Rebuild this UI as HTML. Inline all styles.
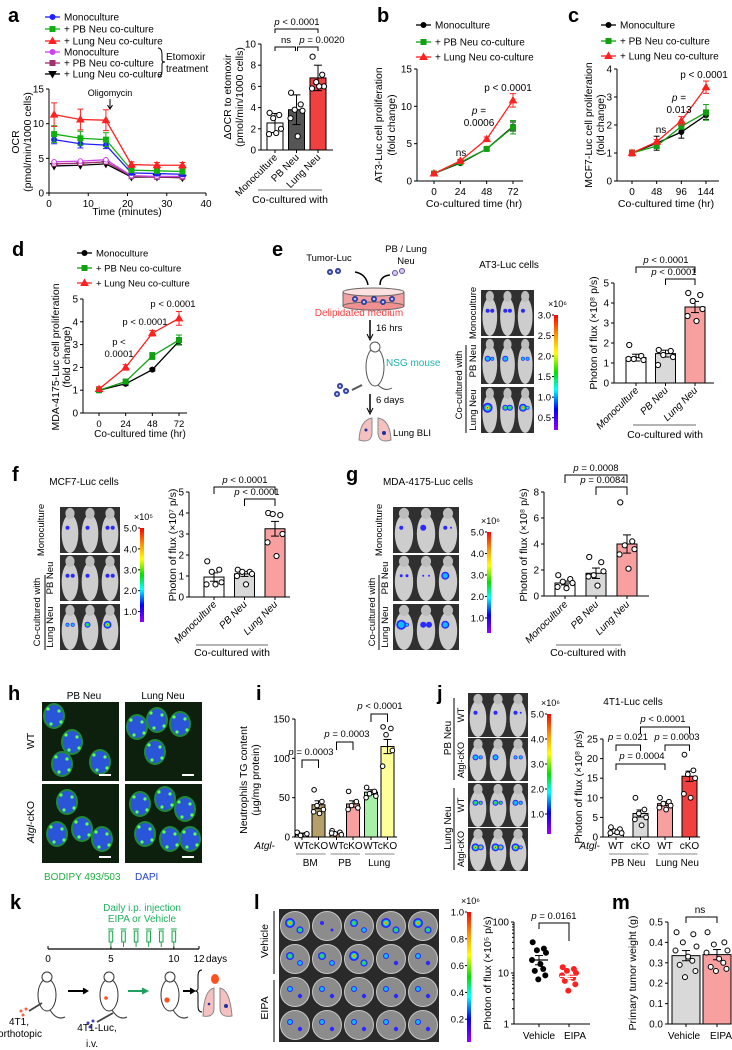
<!DOCTYPE html>
<html><head><meta charset="utf-8">
<style>
html,body{margin:0;padding:0;background:#fff;}
svg{display:block;font-family:"Liberation Sans",Arial,sans-serif;}
</style></head>
<body>
<svg id="fig" width="732" height="1050" viewBox="0 0 732 1050" xmlns="http://www.w3.org/2000/svg">
<defs>
<linearGradient id="rainbow" x1="0" y1="0" x2="0" y2="1">
<stop offset="0" stop-color="#ff0000"/><stop offset="0.18" stop-color="#ff9900"/><stop offset="0.33" stop-color="#ffff00"/><stop offset="0.5" stop-color="#00e000"/><stop offset="0.65" stop-color="#00ffff"/><stop offset="0.82" stop-color="#0000ff"/><stop offset="1" stop-color="#9900ff"/>
</linearGradient>
</defs>
</svg>
<script>
// ---------- DATA ----------
const aTime=[1.3,8,14.5,21,27.5,34];
const aMono=[7.7,7.1,6.9,2.9,2.8,2.7];
const aMonoErr=[0.6,0.6,0.5,0.3,0.3,0.3];
const aPB=[8.5,7.9,7.7,3.3,3.2,3.1];
const aPBErr=[1.2,1.0,1.0,0.3,0.3,0.3];
const aLung=[11.3,10.6,10.5,4.1,4.0,4.0];
const aLungErr=[1.7,1.5,1.5,0.4,0.4,0.4];
const aMonoEto=[4.5,4.6,4.8,2.5,2.4,2.4];
const aPBEto=[4.2,4.3,4.5,2.4,2.3,2.3];
const aLungEto=[3.9,4.0,4.2,2.3,2.3,2.2];
const aXTicks=[0,10,20,30,40];
const aYTicks=[0,5,10,15];
const a2Cats=["Monoculture","PB Neu","Lung Neu"];
const a2Means=[2.55,3.8,6.8];
const a2Errs=[0.9,1.4,1.2];
const a2Pts=[[3.5,3.3,3.0,2.0,1.5,1.6],[5.4,4.3,3.8,3.7,3.0,1.3],[8.8,7.1,6.4,6.0,5.8,6.0]];
const a2Ticks=[0,2,4,6,8,10];

const timeTicks=[0,24,48,72];
const bMono=[1,2.4,4.3,7.3];
const bPB=[1,2.5,4.3,7.2];
const bLung=[1,2.7,5.6,10.8];
const bMonoErr=[0.1,0.1,0.2,0.6];
const bPBErr=[0.1,0.1,0.2,0.9];
const bLungErr=[0.2,0.2,0.3,0.9];
const bYTicks=[0,5,10,15];

const cTimes=[0,48,96,144];
const cMono=[1,1.35,1.75,2.35];
const cPB=[1,1.25,1.95,2.45];
const cLung=[1,1.4,2.15,3.35];
const cMonoErr=[0.1,0.25,0.22,0.15];
const cPBErr=[0.1,0.08,0.1,0.28];
const cLungErr=[0.1,0.08,0.15,0.22];
const cYTicks=[0,1,2,3,4];

const dMono=[1,1.28,1.9,3.15];
const dPB=[1,1.38,2.5,3.2];
const dLung=[1.05,2.0,3.5,4.15];
const dMonoErr=[0.08,0.06,0.06,0.15];
const dPBErr=[0.1,0.08,0.15,0.22];
const dLungErr=[0.1,0.12,0.12,0.3];
const dYTicks=[0,1,2,3,4,5];

const cultCats=["Monoculture","PB Neu","Lung Neu"];
const eMeans=[1.27,1.47,3.8];
const eErrs=[0.17,0.17,0.28];
const ePts=[[1.9,1.35,1.2,1.15,1.2],[1.65,1.6,1.4,1.3,0.9],[4.5,4.4,4.1,3.7,3.35,3.1]];
const eTicks=[0,1,2,3,4,5];
const fMeans=[0.95,1.1,3.25];
const fErrs=[0.2,0.12,0.35];
const fPts=[[1.7,1.3,1.2,0.7,0.6,0.6],[1.3,1.2,1.2,1.1,1.0,0.6],[4.0,3.9,3.95,3.0,2.6,1.95]];
const fTicks=[0,1,2,3,4,5];
const gMeans=[1.0,1.75,4.0];
const gErrs=[0.15,0.4,0.7];
const gPts=[[1.6,1.3,1.1,1.0,0.7,0.6],[3.0,2.6,1.6,1.9,1.5,0.8],[7.2,4.2,3.9,3.6,3.2,2.1]];
const gTicks=[0,2,4,6,8];

const iCats=["WT","cKO","WT","cKO","WT","cKO"];
const iGroups=["BM","PB","Lung"];
const iMeans=[4,41,5,42,57,115];
const iErrs=[1,5,1,4,3,9];
const iPts=[[5,3,2,4,6],[60,45,40,35,32,30],[8,6,4,3,5],[58,45,40,37,35],[63,58,55,52,50],[140,138,130,110,90]];
const iTicks=[0,50,100,150];

const jCats=["WT","cKO","WT","cKO"];
const jGroups=["PB Neu","Lung Neu"];
const jMeans=[1.5,6.0,8.5,15.5];
const jErrs=[0.3,0.9,0.5,1.3];
const jPts=[[2.5,2,1.5,1,1,1.2],[10,7,6,5,4.5,3],[10,9,8.5,8,7.5,7],[21,17,16,15,11,10]];
const jTicks=[0,5,10,15,20,25];

const lCats=["Vehicle","EIPA"];
const lVehicle=[40,30,28,25,18,15,12,11,9,7.5];
const lEIPA=[13,12,11,10,9,8.5,8,7,6,4.5];
const lMeans=[18,8.6];
const lErrLo=[14.5,7.8];
const lErrHi=[22,9.5];
const lTicks=[1,10,100];

const mCats=["Vehicle","EIPA"];
const mMeans=[0.335,0.34];
const mErrs=[0.025,0.025];
const mPts=[[0.45,0.44,0.40,0.38,0.36,0.33,0.31,0.29,0.26,0.23],[0.45,0.40,0.39,0.36,0.35,0.32,0.30,0.28,0.27,0.26]];
const mTicks=[0,0.1,0.2,0.3,0.4,0.5];

// ---------- HELPERS ----------
const NS='http://www.w3.org/2000/svg';
const svg=document.getElementById('fig');
function mk(tag,attrs,name,parent){
  const el=document.createElementNS(NS,tag);
  for(const k in attrs){if(attrs[k]!==undefined&&attrs[k]!==null)el.setAttribute(k,attrs[k]);}
  
  
  (parent||svg).appendChild(el);return el;
}
function T(x,y,s,o,name){o=o||{};const a={x:x,y:y,'font-size':o.fs||10,'text-anchor':o.a||'start',fill:o.c||'#000'};
  if(o.it)a['font-style']='italic';if(o.b)a['font-weight']='bold';
  if(o.r)a.transform='rotate('+o.r+' '+x+' '+y+')';
  const t=mk('text',a,name||'label');t.textContent=s;return t;}
function pT(x,y,rest,o,name){const t=T(x,y,'',o,name);
  const s=document.createElementNS(NS,'tspan');
  
  
  s.setAttribute('font-style','italic');s.textContent='p';t.appendChild(s);
  t.appendChild(document.createTextNode(' '+rest));return t;}
function L(x1,y1,x2,y2,name,o){o=o||{};return mk('line',{x1:x1,y1:y1,x2:x2,y2:y2,stroke:o.c||'#000','stroke-width':o.w||1},name);}
function Pth(d,name,o){o=o||{};return mk('path',{d:d,fill:o.f||'none',stroke:o.c||'#000','stroke-width':o.w||1},name);}
function lin(d0,d1,r0,r1){return v=>r0+(v-d0)*(r1-r0)/(d1-d0);}
function panel(x,y,s){T(x,y,s,{fs:20,b:true},'panel-label-'+s);}
function yAxis(ax,sc,ticks,name,fmt,fs){
  L(ax,sc(ticks[0]),ax,sc(ticks[ticks.length-1]),name+'-y-axis');
  ticks.forEach(v=>{L(ax-3,sc(v),ax,sc(v),name+'-y-tick');
    T(ax-5,sc(v)+3.5,fmt?fmt(v):String(v),{a:'end',fs:fs||10},name+'-y-tick-label');});
}
function xAxis(y,sc,ticks,x0,x1,name,fs){
  L(x0,y,x1,y,name+'-x-axis');
  ticks.forEach(v=>{L(sc(v),y,sc(v),y+3,name+'-x-tick');
    T(sc(v),y+14,String(v),{a:'middle',fs:fs||10},name+'-x-tick-label');});
}
function yTitle(x,cy,s,name,fs){T(x,cy,s,{a:'middle',r:-90,fs:fs||10.5},name);}
function marker(x,y,type,color,s,name,hollow){
  const f=hollow?'#fff':color;
  if(type==='o')mk('circle',{cx:x,cy:y,r:s,fill:f,stroke:color,'stroke-width':1},name);
  else if(type==='s')mk('rect',{x:x-s,y:y-s,width:2*s,height:2*s,fill:f,stroke:color},name);
  else if(type==='^')mk('path',{d:`M${x} ${y-s-1}L${x+s+1} ${y+s}L${x-s-1} ${y+s}Z`,fill:f,stroke:color},name);
  else mk('path',{d:`M${x} ${y+s+1}L${x+s+1} ${y-s}L${x-s-1} ${y-s}Z`,fill:f,stroke:color},name);
}
function series(xs,ys,es,sx,sy,color,type,name,s,hollow){
  mk('polyline',{points:xs.map((x,i)=>sx(x)+','+sy(ys[i])).join(' '),fill:'none',stroke:color,'stroke-width':1.3},name+'-line');
  xs.forEach((x,i)=>{const px=sx(x);
    if(es){L(px,sy(ys[i]-es[i]),px,sy(ys[i]+es[i]),name+'-error-bar',{c:color});
      L(px-3,sy(ys[i]+es[i]),px+3,sy(ys[i]+es[i]),name+'-error-cap',{c:color});
      L(px-3,sy(ys[i]-es[i]),px+3,sy(ys[i]-es[i]),name+'-error-cap',{c:color});}
    marker(px,sy(ys[i]),type,color,s||2.5,name+'-point',hollow);});
}
function legendEntry(x,y,color,type,label,name,fs){
  L(x,y,x+15,y,name+'-swatch',{c:color,w:1.3});marker(x+7.5,y,type,color,2.5,name+'-marker');
  T(x+19,y+3.5,label,{fs:fs||10},name+'-text');
}
function bracket(x1,x2,y,h1,h2,name){Pth(`M${x1} ${y+h1}V${y}H${x2}V${y+h2}`,name);}
const jit=[-0.45,0.35,-0.15,0.5,-0.5,0.1,0.3,-0.3,0.45,-0.05];
function barChart(c){
  const sy=lin(0,c.vmax,c.base,c.top);
  yAxis(c.ax,sy,c.ticks,c.name,c.fmt,c.fs);
  L(c.ax,c.base,c.xEnd,c.base,c.name+'-x-axis');
  c.means.forEach((m,i)=>{const cx=c.cx(i);
    mk('rect',{x:cx-c.w/2,y:sy(m),width:c.w,height:c.base-sy(m),fill:c.fills[i],stroke:'#000','stroke-width':1},c.name+'-bar-'+i);
    L(cx,sy(m-c.errs[i]),cx,sy(m+c.errs[i]),c.name+'-error-bar');
    L(cx-4,sy(m+c.errs[i]),cx+4,sy(m+c.errs[i]),c.name+'-error-cap');
    L(cx-4,sy(m-c.errs[i]),cx+4,sy(m-c.errs[i]),c.name+'-error-cap');
    c.pts[i].forEach((v,j)=>mk('circle',{cx:cx+jit[j%10]*c.w*0.75,cy:sy(v),r:c.r||2.6,fill:'#fff',stroke:'#000','stroke-width':1},c.name+'-dot'));
    L(cx,c.base,cx,c.base+3,c.name+'-x-tick');
  });
  return sy;
}
function rotLabels(cats,cxf,y,name,it){cats.forEach((s,i)=>T(cxf(i)+3,y,s,{a:'end',r:-45,fs:10,it:it},name));}
function colorbar(x,y1,y2,labels,vals,top,bottom,exp,name){
  mk('rect',{x:x,y:y1,width:4,height:y2-y1,fill:'url(#rainbow)'},name);
  const s=lin(bottom,top,y2,y1);
  vals.forEach((v,i)=>{L(x-2,s(v),x,s(v),name+'-tick');T(x-3,s(v)+3.5,labels[i],{a:'end',fs:9.5},name+'-tick-label');});
  T(x-6,y1-8,'×10'+exp,{fs:9},name+'-exponent');
}
function blob(x,y,r,l,name){
  mk('circle',{cx:x,cy:y,r:r,fill:'#2a2aff'},name);
  if(l>=1)mk('circle',{cx:x,cy:y,r:r*0.65,fill:'#10b8ff'},name+'-mid');
  if(l>=2)mk('circle',{cx:x,cy:y,r:r*0.45,fill:'#30e030'},name+'-mid');
  if(l>=3){mk('circle',{cx:x,cy:y,r:r*0.3,fill:'#ffee00'},name+'-core');mk('circle',{cx:x,cy:y,r:r*0.15,fill:'#ff0000'},name+'-core');}
}
function bli(x,y,w,h,spec,name){
  mk('rect',{x:x,y:y,width:w,height:h,fill:'#303030'},name+'-background');
  for(let k=0;k<3;k++){const cx=x+w*(k+0.5)/3;
    mk('ellipse',{cx:cx,cy:y+h*0.58,rx:w/7.2,ry:h*0.42,fill:'#cdcdcd'},name+'-mouse');
    mk('ellipse',{cx:cx,cy:y+h*0.14,rx:w/13,ry:h*0.12,fill:'#bdbdbd'},name+'-mouse-head');
    const sp=spec[k];
    if(sp[0]>0){blob(cx-w/24,y+h*0.45,sp[0],sp[1],name+'-signal');
      if(sp[2])blob(cx+w/22,y+h*0.45,sp[2],sp[1],name+'-signal');}
  }
}
function cellIcon(x,y,name){mk('circle',{cx:x,cy:y,r:3,fill:'#2c3a9c'},name);mk('circle',{cx:x,cy:y,r:1.3,fill:'#b8c4ff'},name+'-nucleus');}

// ---------- PANEL A ----------
panel(8,22,'a');
const aCols=['#2020ff','#10b010','#ff2020','#cc44ee','#a03070','#000'];
const aTypes=['o','s','^','o','s','v'];
const aLabels=['Monoculture','+ PB Neu co-culture','+ Lung Neu co-culture','Monoculture','+ PB Neu co-culture','+ Lung Neu co-culture'];
[17,29,41,52,63,74].forEach((y,i)=>legendEntry(45,y,aCols[i],aTypes[i],aLabels[i],'a-legend-entry'));
Pth('M158 48Q162 48 162 55V60Q162 62 165 62Q162 62 162 64V70Q162 77 158 77','a-etomoxir-brace');
T(166,60,'Etomoxir',{fs:10},'a-etomoxir-label');T(166,72,'treatment',{fs:10},'a-treatment-label');
const aX=lin(0,40,49,206), aY=lin(0,15,193,89);
yAxis(49,aY,aYTicks,'a-ocr');xAxis(193,aX,aXTicks,49,206,'a-ocr');
T(127,215,'Time (minutes)',{a:'middle',fs:10.5},'a-x-axis-title');
yTitle(19,142,'OCR','a-y-axis-title');yTitle(31,142,'(pmol/min/1000 cells)','a-y-axis-title-units');
T(110,96,'Oligomycin',{a:'middle',fs:9},'a-oligomycin-label');
L(110,99,110,108,'a-oligomycin-arrow');Pth('M107.5 105L110 109L112.5 105','a-oligomycin-arrowhead');
series(aTime,aLungEto,null,aX,aY,aCols[5],'v','a-lung-etomoxir');
series(aTime,aPBEto,null,aX,aY,aCols[4],'s','a-pb-etomoxir',2.3,true);
series(aTime,aMonoEto,null,aX,aY,aCols[3],'o','a-mono-etomoxir',2.3,true);
series(aTime,aMono,aMonoErr,aX,aY,aCols[0],'o','a-mono');
series(aTime,aPB,aPBErr,aX,aY,aCols[1],'s','a-pb');
series(aTime,aLung,aLungErr,aX,aY,aCols[2],'^','a-lung');
const a2cx=i=>275+i*21.5;
barChart({ax:261,base:150,top:44,vmax:10,ticks:a2Ticks,cx:a2cx,w:16,xEnd:333,means:a2Means,errs:a2Errs,pts:a2Pts,fills:['#fff','#555','#f04040'],name:'a-delta-ocr'});
yTitle(231,97,'ΔOCR to etomoxir','a2-y-axis-title');yTitle(243,97,'(pmol/min/1000 cells)','a2-y-axis-title-units');
rotLabels(a2Cats,a2cx,158,'a2-category-label');
L(258,190,322,190,'a2-group-line',{c:'#888',w:1.3});T(290,203,'Co-cultured with',{a:'middle',fs:10.5},'a2-group-label');
bracket(a2cx(0),a2cx(2),29,4,4,'a2-bracket-mono-lung');pT(297,25,'< 0.0001',{a:'middle',fs:9.5},'a2-pvalue');
bracket(a2cx(0),a2cx(1)-1,47,4,4,'a2-bracket-mono-pb');T(286,43,'ns',{a:'middle',fs:9.5},'a2-ns');
bracket(a2cx(1)+1,a2cx(2),47,4,4,'a2-bracket-pb-lung');pT(322,43,'= 0.0020',{a:'middle',fs:9.5},'a2-pvalue');

// ---------- PANEL B ----------
panel(377,22,'b');
legendEntry(416,25,'#000','o','Monoculture','b-legend-mono');
legendEntry(416,42,'#10a010','s','+ PB Neu co-culture','b-legend-pb');
legendEntry(416,57,'#ff2020','^','+ Lung Neu co-culture','b-legend-lung');
const bX=lin(0,72,434,513), bY=lin(0,15,181,69);
yAxis(417,bY,bYTicks,'b');xAxis(181,bX,timeTicks,417,523,'b');
T(474,207,'Co-cultured time (hr)',{a:'middle',fs:10.5},'b-x-axis-title');
yTitle(382,125,'AT3-Luc cell proliferation','b-y-axis-title');yTitle(395,125,'(fold change)','b-y-axis-title-units');
series(timeTicks,bMono,bMonoErr,bX,bY,'#000','o','b-mono');
series(timeTicks,bPB,bPBErr,bX,bY,'#10a010','s','b-pb');
series(timeTicks,bLung,bLungErr,bX,bY,'#ff2020','^','b-lung');
T(461,156,'ns',{a:'middle',fs:10},'b-ns');
pT(479,114,'=',{a:'middle',fs:10},'b-pvalue');T(479,126,'0.0006',{a:'middle',fs:10},'b-pvalue-number');
T(508,91,'p < 0.0001',{a:'middle',fs:10},'b-pvalue-72');

// ---------- PANEL C ----------
panel(568,22,'c');
legendEntry(601,25,'#000','o','Monoculture','c-legend-mono');
legendEntry(601,41,'#10a010','s','+ PB Neu co-culture','c-legend-pb');
legendEntry(601,56,'#ff2020','^','+ Lung Neu co-culture','c-legend-lung');
const cX=lin(0,144,632,706), cY=lin(0,4,181,69);
yAxis(617,cY,cYTicks,'c');xAxis(181,cX,cTimes,617,719,'c');
T(666,207,'Co-cultured time (hr)',{a:'middle',fs:10.5},'c-x-axis-title');
yTitle(592,125,'MCF7-Luc cell proliferation','c-y-axis-title');yTitle(604,125,'(fold change)','c-y-axis-title-units');
series(cTimes,cMono,cMonoErr,cX,cY,'#000','o','c-mono');
series(cTimes,cPB,cPBErr,cX,cY,'#10a010','s','c-pb');
series(cTimes,cLung,cLungErr,cX,cY,'#ff2020','^','c-lung');
T(661,133,'ns',{a:'middle',fs:10},'c-ns');
pT(679,101,'=',{a:'middle',fs:10},'c-pvalue');T(679,113,'0.013',{a:'middle',fs:10},'c-pvalue-number');
T(704,78,'p < 0.0001',{a:'middle',fs:10},'c-pvalue-144');

// ---------- PANEL D ----------
panel(12,256,'d');
legendEntry(77,253,'#000','o','Monoculture','d-legend-mono',9.5);
legendEntry(77,268,'#10a010','s','+ PB Neu co-culture','d-legend-pb',9.5);
legendEntry(77,283,'#ff2020','^','+ Lung Neu co-culture','d-legend-lung',9.5);
const dX=lin(0,72,99,179), dY=lin(0,5,413,299);
yAxis(83,dY,dYTicks,'d');xAxis(413,dX,timeTicks,83,187,'d',9.5);
T(140,437,'Co-cultured time (hr)',{a:'middle',fs:10},'d-x-axis-title');
yTitle(59,357,'MDA-4175-Luc cell proliferation','d-y-axis-title');yTitle(70,357,'(fold change)','d-y-axis-title-units');
series(timeTicks,dMono,dMonoErr,dX,dY,'#000','o','d-mono');
series(timeTicks,dPB,dPBErr,dX,dY,'#10a010','s','d-pb');
series(timeTicks,dLung,dLungErr,dX,dY,'#ff2020','^','d-lung');
T(173,307,'p < 0.0001',{a:'middle',fs:9.5},'d-pvalue-72');
T(145,325,'p < 0.0001',{a:'middle',fs:9.5},'d-pvalue-48');
T(119,345,'p <',{a:'middle',fs:9.5},'d-pvalue-24');T(119,357,'0.0001',{a:'middle',fs:9.5},'d-pvalue-24-number');

// ---------- PANEL E ----------
panel(272,256,'e');
T(329,261,'Tumor-Luc',{a:'middle',fs:9.5},'e-tumor-luc-label');
T(406,252,'PB / Lung',{a:'middle',fs:9.5},'e-neu-label');T(406,264,'Neu',{a:'middle',fs:9.5},'e-neu-label-2');
cellIcon(330,272,'e-tumor-cell');cellIcon(338,271,'e-tumor-cell');
mk('circle',{cx:395,cy:273,r:2.5,fill:'#d8c8f0',stroke:'#6050a0'},'e-neutrophil');mk('circle',{cx:402,cy:271,r:2.5,fill:'#d8c8f0',stroke:'#6050a0'},'e-neutrophil');
Pth('M355 272Q366 274 368 285','e-arrow-tumor',{w:1.5});Pth('M390 275Q380 276 380 285','e-arrow-neu',{w:1.5});
mk('rect',{x:343,y:292,width:61,height:14,fill:'#f4a0a0',stroke:'#666'},'e-dish-body');
mk('ellipse',{cx:373.5,cy:306,rx:30.5,ry:4,fill:'#f09090',stroke:'#666'},'e-dish-bottom');
mk('ellipse',{cx:373.5,cy:292,rx:30.5,ry:4,fill:'#fbe0e0',stroke:'#666'},'e-dish-top');
[355,364,374,383,392].forEach((x,k)=>cellIcon(x,299+(k%2)*3,'e-dish-cell'));
T(359,316,'Delipidated medium',{a:'middle',fs:10,c:'#ff4040'},'e-delipidated-label');
L(370,320,370,338,'e-arrow-16h',{w:1.5});Pth('M367 334L370 340L373 334','e-arrowhead');
T(376,331,'16 hrs',{fs:9.5},'e-16hrs-label');
mk('ellipse',{cx:375,cy:367,rx:9,ry:19,fill:'#fff',stroke:'#555'},'e-mouse-body');
mk('ellipse',{cx:375,cy:347,rx:5,ry:5,fill:'#fff',stroke:'#555'},'e-mouse-head');
Pth('M378 385Q385 392 392 388','e-mouse-tail',{c:'#555'});
T(386,366,'NSG mouse',{fs:10,c:'#20b0b0'},'e-nsg-label');
cellIcon(340,386,'e-injected-cell');cellIcon(346,391,'e-injected-cell');cellIcon(337,394,'e-injected-cell');
L(352,390,362,385,'e-syringe',{c:'#555',w:2});
L(370,394,370,412,'e-arrow-6d',{w:1.5});Pth('M367 408L370 414L373 408','e-arrowhead-2');
T(376,403,'6 days',{fs:9.5},'e-6days-label');
mk('path',{d:'M372 418Q360 420 359 440Q372 444 372 432Z',fill:'#f4c0c0',stroke:'#888'},'e-lung-left');
mk('path',{d:'M378 418Q390 420 391 440Q378 444 378 432Z',fill:'#f4c0c0',stroke:'#888'},'e-lung-right');
mk('circle',{cx:366,cy:430,r:1.5,fill:'#2030a0'},'e-lung-metastasis');mk('circle',{cx:384,cy:433,r:2,fill:'#2030a0'},'e-lung-metastasis');
T(393,436,'Lung BLI',{fs:9.5},'e-lung-bli-label');
T(509,268,'AT3-Luc cells',{a:'middle',fs:10},'e-image-title');
bli(481,290,53,46,[[2,0,2],[2,0,2],[2,0,0]],'e-bli-mono');
bli(481,338,53,46,[[3,1,2],[3,1,0],[2,1,2]],'e-bli-pb');
bli(481,387,53,46,[[5,3,0],[3,2,3],[4,3,2]],'e-bli-lung');
yTitle(476,313,'Monoculture','e-row-mono',9.5);yTitle(476,361,'PB Neu','e-row-pb',9.5);yTitle(476,410,'Lung Neu','e-row-lung',9.5);
yTitle(462,385,'Co-cultured with','e-row-group',9.5);L(466,345,466,433,'e-row-group-line');
colorbar(554,315,430,['3.0','2.5','2.0','1.5','1.0','0.5'],[3,2.5,2,1.5,1,0.5],3.0,0.2,'⁶','e-colorbar');
const ecx=i=>636+i*29.5;
barChart({ax:614,base:383,top:283,vmax:5,ticks:eTicks,cx:ecx,w:20,xEnd:714,means:eMeans,errs:eErrs,pts:ePts,fills:['#fff','#d9d9d9','#f8a0a0'],name:'e-flux'});
yTitle(597,333,'Photon of flux (×10⁸ p/s)','e-y-axis-title');
rotLabels(cultCats,ecx,391,'e-category-label',true);
L(633,425,696,425,'e-group-line',{c:'#888',w:1.3});T(665,438,'Co-cultured with',{a:'middle',fs:10.5},'e-group-label');
bracket(ecx(0),ecx(2),267,6,6,'e-bracket-mono-lung');pT(666,263,'< 0.0001',{a:'middle',fs:9.5},'e-pvalue');
bracket(ecx(1),ecx(2),279,6,6,'e-bracket-pb-lung');pT(674,275,'< 0.0001',{a:'middle',fs:9.5},'e-pvalue');

// ---------- PANEL F ----------
panel(12,481,'f');
T(84,485,'MCF7-Luc cells',{a:'middle',fs:10},'f-image-title');
bli(60,507,60,46,[[2,0,0],[2,0,0],[2,0,2]],'f-bli-mono');
bli(60,555,60,46,[[2,0,2],[2,0,0],[2,0,2]],'f-bli-pb');
bli(60,604,60,46,[[2,1,2],[3,2,0],[4,3,0]],'f-bli-lung');
yTitle(44,530,'Monoculture','f-row-mono',9.5);yTitle(53,578,'PB Neu','f-row-pb',9.5);yTitle(53,627,'Lung Neu','f-row-lung',9.5);
yTitle(40,612,'Co-cultured with','f-row-group',9.5);L(45,575,45,650,'f-row-group-line');
colorbar(140,528,622,['5.0','4.0','3.0','2.0','1.0'],[5,4,3,2,1],5,0.5,'⁵','f-colorbar');
const fcx=i=>214+i*30.5;
barChart({ax:189,base:597,top:492,vmax:5,ticks:fTicks,cx:fcx,w:20,xEnd:290,means:fMeans,errs:fErrs,pts:fPts,fills:['#fff','#d9d9d9','#f8a0a0'],name:'f-flux'});
yTitle(176,545,'Photon of flux (×10⁷ p/s)','f-y-axis-title');
rotLabels(cultCats,fcx,605,'f-category-label',true);
L(196,645,268,645,'f-group-line',{c:'#888',w:1.3});T(232,656,'Co-cultured with',{a:'middle',fs:10.5},'f-group-label');
bracket(fcx(0),fcx(2),487,7,7,'f-bracket-mono-lung');pT(245,483,'< 0.0001',{a:'middle',fs:9.5},'f-pvalue');
bracket(fcx(1),fcx(2),499,7,7,'f-bracket-pb-lung');pT(257,495,'< 0.0001',{a:'middle',fs:9.5},'f-pvalue');

// ---------- PANEL G ----------
panel(346,481,'g');
T(428,485,'MDA-4175-Luc cells',{a:'middle',fs:10},'g-image-title');
bli(393,507,66,46,[[2,0,0],[3,0,0],[2,0,1]],'g-bli-mono');
bli(393,555,66,46,[[1.5,0,1.5],[1,0,1],[4,1,0]],'g-bli-pb');
bli(393,604,66,46,[[5,1,2],[3,0,3],[4,1,0]],'g-bli-lung');
yTitle(382,530,'Monoculture','g-row-mono',9.5);yTitle(388,578,'PB Neu','g-row-pb',9.5);yTitle(388,627,'Lung Neu','g-row-lung',9.5);
yTitle(375,612,'Co-cultured with','g-row-group',9.5);L(379,575,379,650,'g-row-group-line');
colorbar(487,532,633,['5.0','4.0','3.0','2.0','1.0'],[5,4,3,2,1],5,0.3,'⁶','g-colorbar');
const gcx=i=>565+i*31;
barChart({ax:544,base:596,top:492,vmax:8,ticks:gTicks,cx:gcx,w:20,xEnd:649,means:gMeans,errs:gErrs,pts:gPts,fills:['#fff','#d9d9d9','#f8a0a0'],name:'g-flux'});
yTitle(527,545,'Photon of flux (×10⁸ p/s)','g-y-axis-title');
rotLabels(cultCats,gcx,605,'g-category-label',true);
L(556,645,621,645,'g-group-line',{c:'#888',w:1.3});T(588,656,'Co-cultured with',{a:'middle',fs:10.5},'g-group-label');
bracket(gcx(0),gcx(2),475,8,8,'g-bracket-mono-lung');pT(596,471,'= 0.0008',{a:'middle',fs:9.5},'g-pvalue');
bracket(gcx(1),gcx(2),487,8,8,'g-bracket-pb-lung');pT(603,483,'= 0.0084',{a:'middle',fs:9.5},'g-pvalue');

// ---------- PANEL H ----------
panel(8,700,'h');
T(84,699,'PB Neu',{a:'middle',fs:10},'h-col-pb');T(163,699,'Lung Neu',{a:'middle',fs:10},'h-col-lung');
yTitle(34,741,'WT','h-row-wt');
const hRowLbl=T(34,822,'',{a:'middle',r:-90,fs:10.5},'h-row-cko');
(function(){const s=document.createElementNS(NS,'tspan');s.setAttribute('font-style','italic');s.textContent='Atgl';hRowLbl.appendChild(s);hRowLbl.appendChild(document.createTextNode('-cKO'));})();
const hCells=[[[12,14],[30,40],[20,62],[58,60]],[[12,25],[32,18],[55,22],[30,50]],[[25,18],[15,50],[40,45],[60,55]],[[15,20],[40,15],[60,25],[20,50],[45,55],[65,55]]];
[[42,702],[125,702],[42,784],[125,784]].forEach((p,k)=>{
  mk('rect',{x:p[0],y:p[1],width:77,height:79,fill:'#0d1f0d'},'h-image-bg');
  hCells[k].forEach(c=>{mk('ellipse',{cx:p[0]+c[0],cy:p[1]+c[1],rx:11,ry:13,fill:'#1f8a3a'},'h-cell-lipid');
    mk('ellipse',{cx:p[0]+c[0],cy:p[1]+c[1],rx:9,ry:11,fill:'#2a55d8'},'h-cell-nucleus');
    for(let d=0;d<4;d++)mk('circle',{cx:p[0]+c[0]+[-6,5,7,-3][d],cy:p[1]+c[1]+[-7,-5,6,8][d],r:1.6,fill:'#5cff5c'},'h-lipid-droplet');});
  mk('rect',{x:p[0]+57,y:p[1]+72,width:12,height:2,fill:'#fff'},'h-scale-bar');
});
T(44,880,'BODIPY 493/503',{fs:10,c:'#20b040'},'h-legend-bodipy');T(135,880,'DAPI',{fs:10,c:'#2040d0'},'h-legend-dapi');

// ---------- PANEL I ----------
panel(256,700,'i');
const icx=i=>302+Math.floor(i/2)*34.5+(i%2)*16.5;
barChart({ax:295,base:837,top:719,vmax:150,ticks:iTicks,cx:icx,w:13,xEnd:397,means:iMeans,errs:iErrs,pts:iPts,fills:['#fff','#b5a06a','#f0a868','#f8a0a0','#a8f0a8','#ffff99'],name:'i-tg',r:2.3});
yTitle(247,780,'Neutrophils TG content','i-y-axis-title');yTitle(259,780,'(µg/mg protein)','i-y-axis-title-units');
const iAt=T(275,849,'',{a:'end',fs:10},'i-atgl-label');
(function(){const s=document.createElementNS(NS,'tspan');s.setAttribute('font-style','italic');s.textContent='Atgl';iAt.appendChild(s);iAt.appendChild(document.createTextNode('-'));})();
iCats.forEach((s,i)=>T(icx(i),849,s,{a:'middle',fs:10},'i-genotype-label'));
iGroups.forEach((s,g)=>{L(icx(2*g)-6,854,icx(2*g+1)+7,854,'i-group-line',{c:'#888'});T((icx(2*g)+icx(2*g+1))/2,866,s,{a:'middle',fs:10},'i-group-label');});
bracket(icx(0),icx(1),760,8,8,'i-bracket-bm');pT(311,755,'= 0.0003',{a:'middle',fs:9.5},'i-pvalue');
bracket(icx(2),icx(3),742,8,8,'i-bracket-pb');pT(347,737,'= 0.0003',{a:'middle',fs:9.5},'i-pvalue');
bracket(icx(4),icx(5),714,8,8,'i-bracket-lung');pT(380,709,'< 0.0001',{a:'middle',fs:9.5},'i-pvalue');

// ---------- PANEL J ----------
panel(437,700,'j');
bli(468,693,60,44,[[2,0,0],[2,0,0],[2,0,1]],'j-bli-pb-wt');
bli(468,738,60,43,[[3,1,2],[3,1,0],[2,1,2]],'j-bli-pb-cko');
bli(468,783,60,44,[[3,2,2],[3,2,2],[3,1,2]],'j-bli-lung-wt');
bli(468,828,60,43,[[4,3,3],[4,3,3],[4,3,2]],'j-bli-lung-cko');
yTitle(464,715,'WT','j-row-wt',9.5);yTitle(464,760,'Atgl-cKO','j-row-cko',9);yTitle(464,805,'WT','j-row-wt-2',9.5);yTitle(464,849,'Atgl-cKO','j-row-cko-2',9);
yTitle(451,738,'PB Neu','j-row-pb',10);yTitle(451,828,'Lung Neu','j-row-lung',10);
L(454,698,454,780,'j-row-line');L(454,788,454,870,'j-row-line');
colorbar(547,714,834,['5.0','4.0','3.0','2.0','1.0'],[5,4,3,2,1],5,0.2,'⁶','j-colorbar');
T(633,705,'4T1-Luc cells',{a:'middle',fs:10},'j-chart-title');
const jcx=i=>616+Math.floor(i/2)*49+(i%2)*24.5;
barChart({ax:603,base:837,top:739,vmax:25,ticks:jTicks,cx:jcx,w:15,xEnd:700,means:jMeans,errs:jErrs,pts:jPts,fills:['#fff','#d9d9d9','#f8a0a0','#f04040'],name:'j-flux',r:2.4});
yTitle(582,787,'Photon of flux (×10⁸ p/s)','j-y-axis-title');
const jAt=T(600,849,'',{a:'end',fs:10},'j-atgl-label');
(function(){const s=document.createElementNS(NS,'tspan');s.setAttribute('font-style','italic');s.textContent='Atgl';jAt.appendChild(s);jAt.appendChild(document.createTextNode('-'));})();
jCats.forEach((s,i)=>T(jcx(i),849,s,{a:'middle',fs:10},'j-genotype-label'));
jGroups.forEach((s,g)=>{L(jcx(2*g)-7,854,jcx(2*g+1)+8,854,'j-group-line',{c:'#888'});T((jcx(2*g)+jcx(2*g+1))/2,866,s,{a:'middle',fs:10},'j-group-label');});
bracket(jcx(1),jcx(3),727,7,7,'j-bracket-cko');pT(663,722,'< 0.0001',{a:'middle',fs:9.5},'j-pvalue');
bracket(jcx(0),jcx(1),745,6,6,'j-bracket-pb');pT(628,740,'= 0.021',{a:'middle',fs:9.5},'j-pvalue');
bracket(jcx(2),jcx(3),745,6,6,'j-bracket-lung');pT(677,740,'= 0.0003',{a:'middle',fs:9.5},'j-pvalue');
bracket(jcx(0),jcx(2),764,6,6,'j-bracket-wt');pT(642,759,'= 0.0004',{a:'middle',fs:9.5},'j-pvalue');

// ---------- PANEL K ----------
panel(10,909,'k');
T(142,911,'Daily i.p. injection',{a:'middle',fs:10,c:'#20b060'},'k-injection-label');
T(142,922,'EIPA or Vehicle',{a:'middle',fs:10,c:'#20b060'},'k-treatment-label');
const kX=lin(0,12,48,199);
L(48,949,199,949,'k-timeline',{w:1.2});
[0,5,10,12].forEach(v=>{L(kX(v),946,kX(v),949,'k-timeline-tick');T(kX(v),962,String(v),{a:'middle',fs:10},'k-timeline-label');});
T(206,962,'days',{fs:10},'k-days-label');
[5,6,7,8,9,10].forEach(v=>{const x=kX(v);mk('rect',{x:x-1.8,y:931,width:3.6,height:11,fill:'#e8fff0',stroke:'#20a050'},'k-syringe');
  L(x-3,929,x+3,929,'k-syringe-plunger',{c:'#20a050'});L(x,942,x,947,'k-syringe-needle',{c:'#20a050'});});
function mouse(x,y,name){mk('ellipse',{cx:x,cy:y,rx:9,ry:16,fill:'#fff',stroke:'#333'},name+'-body');
  mk('ellipse',{cx:x,cy:y-18,rx:5,ry:5,fill:'#fff',stroke:'#333'},name+'-head');
  Pth(`M${x+3} ${y+15}Q${x+10} ${y+26} ${x+18} ${y+22}`,name+'-tail',{c:'#333'});}
mouse(47,995,'k-mouse-1');mouse(109,995,'k-mouse-2');mouse(170,995,'k-mouse-3');
mk('circle',{cx:106,cy:998,r:1.8,fill:'#ff5020'},'k-tumor-small');mk('circle',{cx:167,cy:1000,r:2.6,fill:'#ff5020'},'k-tumor');
[[21,1011],[26,1009],[23,1015]].forEach(p=>mk('circle',{cx:p[0],cy:p[1],r:1.5,fill:'#ff6040'},'k-4t1-cell'));
L(29,1011,42,1003,'k-syringe-ortho',{c:'#444',w:1.8});
[[88,1023],[93,1021],[90,1027]].forEach(p=>mk('circle',{cx:p[0],cy:p[1],r:1.5,fill:'#4040b0'},'k-4t1luc-cell'));
L(97,1022,113,1013,'k-syringe-iv',{c:'#444',w:1.8});
L(68,991,86,991,'k-arrow-1',{w:2});Pth('M83 988L88 991L83 994','k-arrowhead-1',{f:'#000'});
L(128,991,145,991,'k-arrow-2',{c:'#20a060',w:2});Pth('M142 988L148 991L142 994','k-arrowhead-2',{f:'#20a060',c:'#20a060'});
L(183,991,192,991,'k-arrow-3',{w:2});Pth('M190 988L195 991L190 994','k-arrowhead-3',{f:'#000'});
Pth('M202 970Q198 970 198 976V988Q198 991 195 991Q198 991 198 994V1006Q198 1012 202 1012','k-brace');
mk('ellipse',{cx:215,cy:979,rx:4,ry:5,fill:'#ff5020'},'k-primary-tumor');
mk('path',{d:'M214 988Q204 990 203 1016Q214 1018 214 1008Z',fill:'#f4c0c0',stroke:'#888'},'k-lung-left');
mk('path',{d:'M220 988Q230 990 232 1016Q220 1018 220 1008Z',fill:'#f4c0c0',stroke:'#888'},'k-lung-right');
mk('circle',{cx:226,cy:1006,r:2,fill:'#2030a0'},'k-lung-metastasis');mk('circle',{cx:209,cy:1004,r:1.3,fill:'#2030a0'},'k-lung-metastasis');
T(19,1025,'4T1,',{a:'middle',fs:10},'k-4t1-label');T(20,1037,'orthotopic',{a:'middle',fs:10},'k-orthotopic-label');
T(97,1031,'4T1-Luc,',{a:'middle',fs:10},'k-4t1luc-label');T(92,1047,'i.v.',{a:'middle',fs:10},'k-iv-label');

// ---------- PANEL L ----------
panel(254,909,'l');
mk('rect',{x:279,y:909,width:160,height:133,fill:'#2a2a2a'},'l-plate');
const lWellBlobs=[[3,0,2,3,3],[2,2,3,1,1],[1,1,1,1,1],[1,1,1,1,1]];
for(let r=0;r<4;r++)for(let c=0;c<5;c++){const x=279+16+c*32,y=909+17+r*33;
  mk('circle',{cx:x,cy:y,r:14.5,fill:'#8c8c8c',stroke:'#c8c8c8'},'l-well');
  const lv=lWellBlobs[r][c];blob(x-5,y-3,2+lv,Math.min(lv,3),'l-well-signal');blob(x+5,y+4,1.5+lv*0.7,Math.max(lv-1,0),'l-well-signal');}
yTitle(268,941,'Vehicle','l-row-vehicle');yTitle(268,1008,'EIPA','l-row-eipa');
L(274,911,274,974,'l-row-line');L(274,980,274,1042,'l-row-line');
colorbar(467,912,1042,['1.0','0.8','0.6','0.4','0.2'],[1,0.8,0.6,0.4,0.2],1.0,0.03,'⁶','l-colorbar');
const lY=v=>1024-Math.log10(v)*51;
const lcx=i=>539+i*30;
L(514,lY(1),514,lY(100),'l-y-axis');L(514,1024,590,1024,'l-x-axis');
lTicks.forEach(v=>{L(511,lY(v),514,lY(v),'l-y-tick');T(509,lY(v)+3.5,String(v),{a:'end',fs:10},'l-y-tick-label');});
[2,3,4,5,6,7,8,9,20,30,40,50,60,70,80,90].forEach(v=>L(512,lY(v),514,lY(v),'l-y-minor-tick'));
yTitle(491,973,'Photon of flux (×10⁵ p/s)','l-y-axis-title');
[lVehicle,lEIPA].forEach((arr,i)=>{const cx=lcx(i);const col=i?'#ff2020':'#000';
  arr.forEach((v,j)=>mk('circle',{cx:cx+jit[j%10]*14,cy:lY(v),r:3,fill:col},'l-dot-'+lCats[i].toLowerCase()));
  L(cx-9,lY(lMeans[i]),cx+9,lY(lMeans[i]),'l-mean-line',{c:i?'#fff':'#000',w:1.3});
  L(cx,lY(lErrLo[i]),cx,lY(lErrHi[i]),'l-error-bar',{c:i?'#fff':'#000'});
  L(cx-4,lY(lErrHi[i]),cx+4,lY(lErrHi[i]),'l-error-cap',{c:i?'#fff':'#000'});
  L(cx-4,lY(lErrLo[i]),cx+4,lY(lErrLo[i]),'l-error-cap',{c:i?'#fff':'#000'});
  L(cx,1024,cx,1027,'l-x-tick');
  T(cx+(i?6:0),1039,lCats[i],{a:'middle',fs:10},'l-category-label');});
bracket(lcx(0),lcx(1),923,6,18,'l-bracket');pT(554,919,'= 0.0161',{a:'middle',fs:9.5},'l-pvalue');

// ---------- PANEL M ----------
panel(612,909,'m');
const mcx=i=>686+i*31;
barChart({ax:668,base:1024,top:922,vmax:0.5,ticks:mTicks,cx:mcx,w:28,xEnd:731,means:mMeans,errs:mErrs,pts:mPts,fills:['#d9d9d9','#f8a0a0'],name:'m-weight',fmt:v=>v.toFixed(1),r:2.5});
yTitle(636,973,'Primary tumor weight (g)','m-y-axis-title');
mCats.forEach((s,i)=>T(mcx(i)+(i?4:-2),1039,s,{a:'middle',fs:10},'m-category-label'));
bracket(mcx(0),mcx(1),917,6,6,'m-bracket');T(700,913,'ns',{a:'middle',fs:10},'m-ns');
</script>
</body></html>
